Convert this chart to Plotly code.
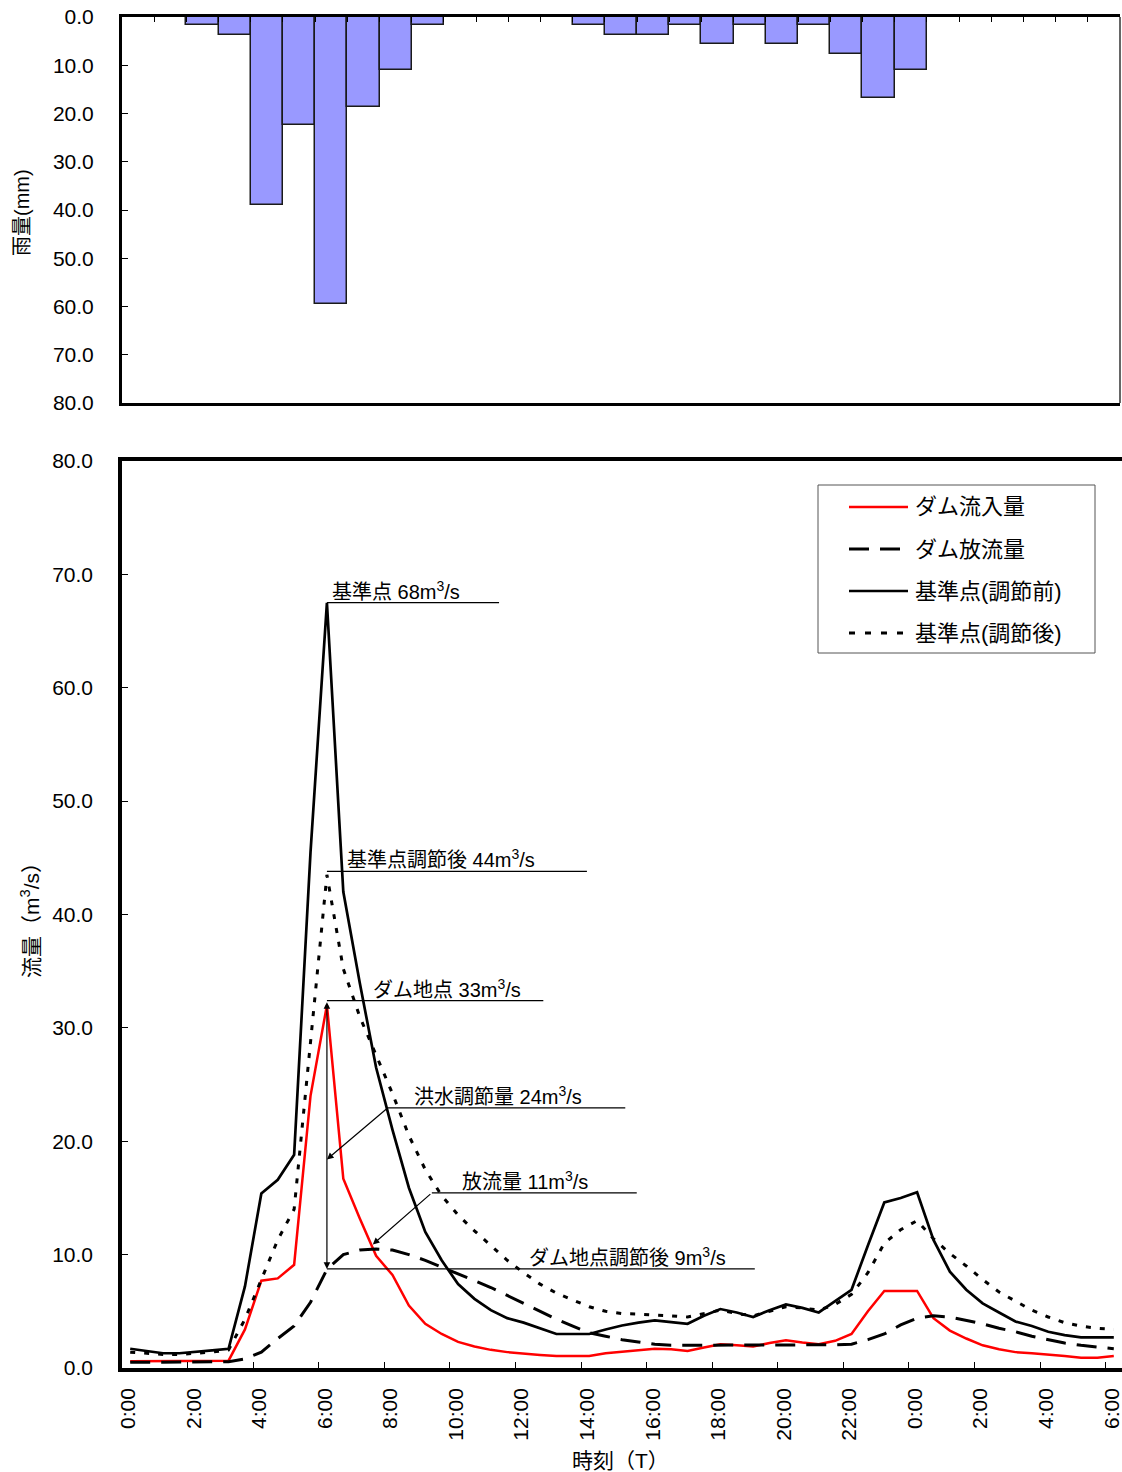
import plotly.graph_objects as go

# ---------------- data ----------------
rain_hours = list(range(31))
rain_mm = [0, 0, 1.6, 3.7, 39.0, 22.4, 59.5, 18.6, 11.0, 1.6,
           0, 0, 0, 0, 1.6, 3.7, 3.7, 1.6, 5.6, 1.6,
           5.6, 1.6, 7.6, 16.7, 11.0, 0, 0, 0, 0, 0, 0]

hours = [i * 0.5 for i in range(61)]  # 0:00 .. 6:00 next day, every 30 min

dam_inflow = [0.6, 0.6, 0.6, 0.6, 0.6, 0.65, 0.65, 3.4, 7.7, 7.9,
              9.1, 24.0, 32.0, 16.7, 13.2, 9.9, 8.2, 5.5, 3.9, 3.0,
              2.3, 1.9, 1.6, 1.4, 1.25, 1.15, 1.05, 1.05, 1.05, 1.3,
              1.45, 1.6, 1.7, 1.65, 1.5, 1.8, 2.1, 2.0, 1.9, 2.2,
              2.45, 2.25, 2.1, 2.4, 3.0, 5.0, 6.8, 6.8, 6.8, 4.4,
              3.3, 2.6, 2.0, 1.65, 1.4, 1.3, 1.2, 1.05, 0.9, 0.9, 1.05]

dam_outflow = [0.5, 0.5, 0.5, 0.5, 0.5, 0.5, 0.55, 0.8, 1.4, 2.6,
               3.7, 5.8, 8.7, 10.0, 10.4, 10.5, 10.4, 10.0, 9.5, 8.9,
               8.3, 7.7, 7.1, 6.4, 5.7, 5.0, 4.3, 3.7, 3.1, 2.8,
               2.5, 2.3, 2.1, 2.0, 2.0, 2.0, 2.0, 2.0, 2.0, 2.0,
               2.0, 2.0, 2.0, 2.05, 2.1, 2.5, 3.0, 3.8, 4.4, 4.6,
               4.5, 4.2, 3.9, 3.5, 3.2, 2.8, 2.5, 2.2, 2.0, 1.85, 1.7]

base_before = [1.7, 1.5, 1.3, 1.3, 1.4, 1.55, 1.7, 7.2, 15.4, 16.6,
               18.8, 45.5, 67.5, 42.0, 34.0, 26.5, 21.0, 15.9, 12.0, 9.5,
               7.4, 6.1, 5.1, 4.4, 4.0, 3.5, 3.0, 3.0, 3.0, 3.4,
               3.75, 4.0, 4.2, 4.05, 3.9, 4.6, 5.2, 4.9, 4.5, 5.1,
               5.6, 5.3, 4.9, 5.9, 6.9, 10.8, 14.6, 15.0, 15.5, 11.3,
               8.5, 6.9, 5.7, 4.9, 4.1, 3.7, 3.2, 2.9, 2.7, 2.7, 2.7]

base_after = [1.4, 1.3, 1.2, 1.2, 1.3, 1.4, 1.6, 4.3, 7.8, 11.3,
              14.0, 29.0, 43.5, 35.2, 31.0, 27.6, 24.2, 20.5, 17.5, 15.2,
              13.5, 12.1, 10.8, 9.5, 8.4, 7.4, 6.6, 6.0, 5.4, 5.0,
              4.8, 4.75, 4.7, 4.6, 4.5, 4.8, 5.1, 4.8, 4.6, 5.0,
              5.4, 5.3, 5.1, 5.6, 6.5, 8.4, 11.0, 12.2, 13.0, 11.4,
              10.1, 9.0, 7.8, 6.7, 5.9, 5.1, 4.5, 4.0, 3.7, 3.5, 3.4]

tick_hours = [0, 2, 4, 6, 8, 10, 12, 14, 16, 18, 20, 22, 24, 26, 28, 30]
tick_text = ["0:00", "2:00", "4:00", "6:00", "8:00", "10:00", "12:00", "14:00",
             "16:00", "18:00", "20:00", "22:00", "0:00", "2:00", "4:00", "6:00"]

rain_ticks = [0, 10, 20, 30, 40, 50, 60, 70, 80]
flow_ticks = [0, 10, 20, 30, 40, 50, 60, 70, 80]

series_names = ["ダム流入量", "ダム放流量", "基準点(調節前)", "基準点(調節後)"]
series_colors = ["#FF0000", "black", "black", "black"]
series_widths = [2.5, 3, 2.7, 3]
series_dash = ["solid", "20px,11px", "solid", "5px,9px"]

# annotation values
peak_base = 67.5
peak_base_after = 43.8
peak_dam = 32.4
dam_after = 8.74
flood_cut_y = 22.95
outflow_label_y = 15.45

# ---------------- figure ----------------
W, H = 1122, 1472
FONT = "Liberation Sans, Arial, Noto Sans CJK JP, sans-serif"

fig = go.Figure()

fig.add_trace(go.Bar(
    x=rain_hours, y=rain_mm, width=1.0,
    marker=dict(color="#9999FF", line=dict(color="#1a1a1a", width=1.5)),
    xaxis="x", yaxis="y", showlegend=False, hoverinfo="skip"))

for name, ys, col, lw, dsh in zip(series_names,
                                  [dam_inflow, dam_outflow, base_before, base_after],
                                  series_colors, series_widths, series_dash):
    fig.add_trace(go.Scatter(
        x=hours, y=ys, mode="lines", name=name,
        line=dict(color=col, width=lw, dash=dsh),
        xaxis="x2", yaxis="y2", showlegend=False))

x0p = 122 / W
top_dom = [1 - 403 / H, 1 - 17 / H]
low_dom = [1 - 1368 / H, 1 - 461 / H]

fig.update_layout(
    width=W, height=H,
    margin=dict(l=0, r=0, t=0, b=0, autoexpand=False),
    paper_bgcolor="white", plot_bgcolor="white",
    font=dict(family=FONT, size=21, color="black"),
    bargap=0, showlegend=False,
    xaxis=dict(domain=[x0p, 1120 / W], range=[-0.5, 30.5], side="top",
               showline=True, linewidth=3, linecolor="black", mirror=True,
               tickvals=[k + 0.5 for k in range(30)], ticks="inside",
               ticklen=5, tickcolor="black", tickwidth=1,
               showticklabels=False, showgrid=False, zeroline=False,
               automargin=False),
    yaxis=dict(domain=top_dom, range=[80, 0], showline=True, linewidth=3,
               linecolor="black", tickvals=rain_ticks,
               ticktext=[f"{v:.1f}" for v in rain_ticks],
               ticks="inside", ticklen=6, tickcolor="black", tickwidth=1,
               ticklabelstandoff=21, showgrid=False, zeroline=False,
               tickfont=dict(size=21), automargin=False),
    xaxis2=dict(domain=[x0p, 1.0], range=[-0.25, 30.25], anchor="y2",
                showline=True, linewidth=3.5, linecolor="black", mirror=True,
                tickvals=tick_hours, ticktext=tick_text, ticks="",
                tickangle=-90, ticklabelstandoff=8, ticklabelshift=-2,
                ticklabeloverflow="allow",
                minor=dict(tickvals=[h - 0.25 for h in tick_hours[1:]],
                           ticks="inside", ticklen=6, tickcolor="black",
                           tickwidth=1, showgrid=False),
                showgrid=False, zeroline=False, tickfont=dict(size=21),
                automargin=False),
    yaxis2=dict(domain=low_dom, range=[0, 80], anchor="x2",
                showline=True, linewidth=3.5, linecolor="black",
                tickvals=flow_ticks, ticktext=[f"{v:.1f}" for v in flow_ticks],
                ticks="inside", ticklen=6, tickcolor="black", tickwidth=1,
                ticklabelstandoff=21, showgrid=False, zeroline=False,
                tickfont=dict(size=21), automargin=False),
)

# right border of rainfall panel
fig.add_shape(type="line", xref="paper", yref="paper",
              x0=1120 / W, x1=1120 / W, y0=top_dom[0], y1=top_dom[1],
              line=dict(color="#333333", width=1.5))

# ---- legend (drawn as a boxed key) ----
def px(xp):
    return xp / W

def py(yp):
    return 1 - yp / H

fig.add_shape(type="rect", xref="paper", yref="paper",
              x0=px(818), x1=px(1095), y0=py(653), y1=py(485),
              line=dict(color="#555555", width=1), fillcolor="white", layer="above")
for i, (name, col, lw, dsh) in enumerate(zip(series_names, series_colors,
                                             series_widths, series_dash)):
    yc = 507 + 42 * i
    fig.add_shape(type="line", xref="paper", yref="paper",
                  x0=px(849), x1=px(908), y0=py(yc), y1=py(yc),
                  line=dict(color=col, width=lw, dash=dsh if i != 3 else "6px,10px"),
                  layer="above")
    fig.add_annotation(x=px(913), y=py(yc), xref="paper", yref="paper",
                       text=name, showarrow=False, xanchor="left",
                       yanchor="middle", font=dict(size=22))

# leader lines for labels
def hline(xa, xb, yv):
    fig.add_shape(type="line", xref="x2", yref="y2", x0=xa, x1=xb, y0=yv, y1=yv,
                  line=dict(color="black", width=1.2))

hline(6.0, 11.25, peak_base)
hline(6.0, 13.93, peak_base_after)
hline(6.0, 12.6, peak_dam)
hline(7.86, 15.1, flood_cut_y)
hline(9.2, 15.45, outflow_label_y)
hline(6.0, 19.05, dam_after)

def label(xv, yv, txt):
    fig.add_annotation(x=xv, y=yv, xref="x2", yref="y2", text=txt,
                       showarrow=False, xanchor="left", yanchor="bottom",
                       font=dict(size=20), yshift=-2)

label(6.1, peak_base, "基準点 68m<sup>3</sup>/s")
label(6.55, peak_base_after, "基準点調節後 44m<sup>3</sup>/s")
label(7.35, peak_dam, "ダム地点 33m<sup>3</sup>/s")
label(8.6, flood_cut_y, "洪水調節量 24m<sup>3</sup>/s")
label(10.05, outflow_label_y, "放流量 11m<sup>3</sup>/s")
label(12.1, dam_after, "ダム地点調節後 9m<sup>3</sup>/s")

# arrows
def arrow(xh, yh, xt, yt, both=False):
    fig.add_annotation(x=xh, y=yh, ax=xt, ay=yt, xref="x2", yref="y2",
                       axref="x2", ayref="y2", text="", showarrow=True,
                       arrowhead=2, arrowsize=1.1, arrowwidth=1.2,
                       arrowcolor="black", standoff=0, startstandoff=0,
                       startarrowhead=2, startarrowsize=1.1,
                       arrowside="end+start" if both else "end")

arrow(6.0, dam_after, 6.0, peak_dam, both=True)
arrow(6.0, 18.4, 7.86, flood_cut_y)
arrow(7.4, 10.9, 9.2, outflow_label_y)

# axis titles
fig.add_annotation(x=px(22), y=py(213), xref="paper", yref="paper",
                   text="雨量(mm)", textangle=-90, showarrow=False,
                   xanchor="center", yanchor="middle", font=dict(size=20))
fig.add_annotation(x=px(30), y=py(915), xref="paper", yref="paper",
                   text="流量（m<sup>3</sup>/s）", textangle=-90, showarrow=False,
                   xanchor="center", yanchor="middle", font=dict(size=21))
fig.add_annotation(x=px(620), y=py(1460), xref="paper", yref="paper",
                   text="時刻（T）", showarrow=False,
                   xanchor="center", yanchor="middle", font=dict(size=21))

fig.write_html("out.html")
